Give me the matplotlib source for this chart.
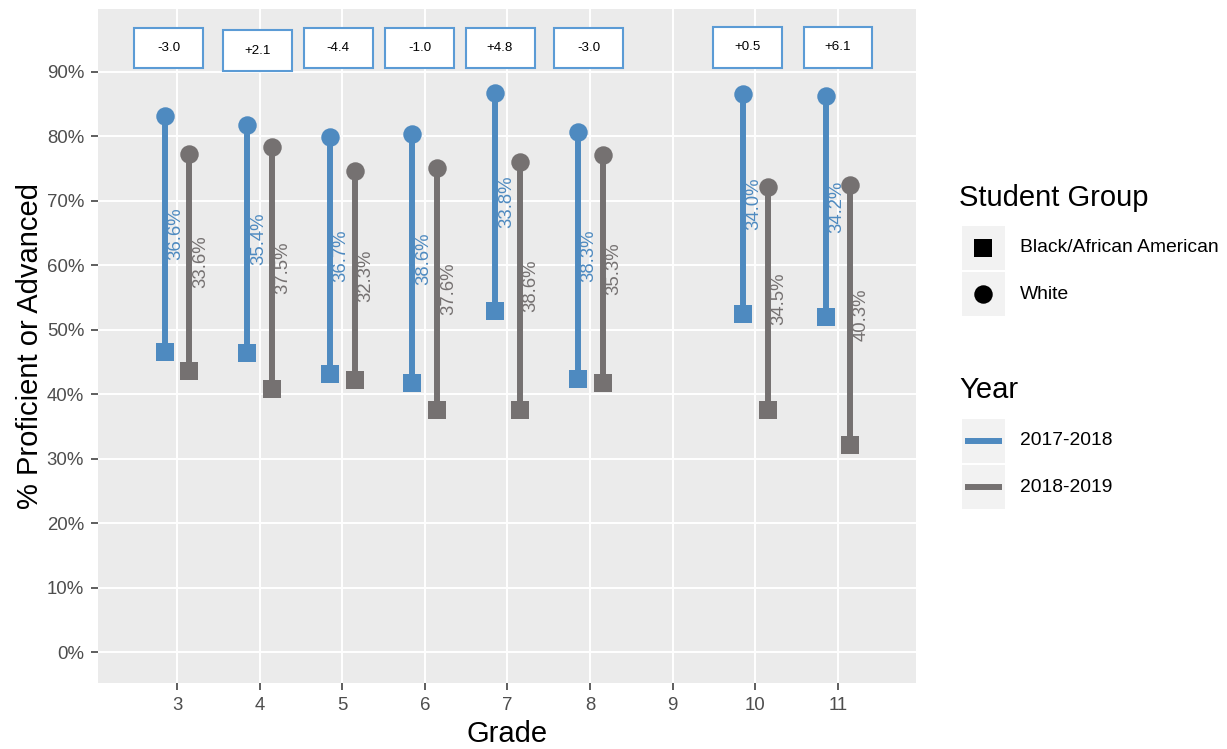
import matplotlib
matplotlib.use("Agg")
import matplotlib.pyplot as plt
from matplotlib.patches import Rectangle
from matplotlib.lines import Line2D

plt.rcParams["font.family"] = ["Liberation Sans", "DejaVu Sans"]

# ── data ──────────────────────────────────────────────────────────────────────
grades     = [3, 4, 5, 6, 7, 8, 10, 11]
years      = ["2017-2018", "2018-2019"]
groups     = ["Black/African American", "White"]
white_1718 = [83.2, 81.8, 79.9, 80.4, 86.8, 80.7, 86.5, 86.2]
black_1718 = [46.6, 46.4, 43.2, 41.8, 53.0, 42.4, 52.5, 52.0]
white_1819 = [77.3, 78.4, 74.6, 75.1, 76.1, 77.1, 72.1, 72.5]
black_1819 = [43.7, 40.9, 42.3, 37.5, 37.5, 41.8, 37.6, 32.2]
xticks     = [3, 4, 5, 6, 7, 8, 9, 10, 11]
yticks     = [0, 10, 20, 30, 40, 50, 60, 70, 80, 90]

# ── style ─────────────────────────────────────────────────────────────────────
C_BLUE  = "#4E8AC0"
C_GRAY  = "#757171"
C_BOX   = "#5B9BD5"
PANEL   = "#EBEBEB"
KEYBG   = "#F2F2F2"
W, H    = 1227, 749
OFFSET  = 0.15
FS_TITLE = 21
FS_TICK  = 13.4
FS_LEG   = 13.9
# ggrepel-ish placement of the change boxes
box_dx  = [-0.10, -0.03, -0.05, -0.06, -0.09, -0.02, -0.10, 0.0]
box_y   = [93.7, 93.3, 93.7, 93.7, 93.7, 93.7, 93.8, 93.8]

gap_1718 = [round(w - b, 1) for w, b in zip(white_1718, black_1718)]
gap_1819 = [round(w - b, 1) for w, b in zip(white_1819, black_1819)]
change   = [round(b - a, 1) for a, b in zip(gap_1718, gap_1819)]


def fx(px):
    return px / W


def fy(py):
    return 1 - py / H


fig = plt.figure(figsize=(W / 100, H / 100), dpi=100)
ax = fig.add_axes([fx(98), fy(683), 818 / W, 674 / H])
ax.set_facecolor(PANEL)
for sp in ax.spines.values():
    sp.set_visible(False)
ax.set_axisbelow(True)
ax.grid(True, color="white", lw=1.4)

runs = [
    (-OFFSET, white_1718, black_1718, gap_1718, C_BLUE),
    (+OFFSET, white_1819, black_1819, gap_1819, C_GRAY),
]
for dx, wh, bl, gaps, col in runs:
    xs = [g + dx for g in grades]
    ax.vlines(xs, bl, wh, colors=col, lw=4.3, zorder=2)
for dx, wh, bl, gaps, col in runs:
    xs = [g + dx for g in grades]
    ax.plot(xs, wh, "o", ms=13.3, color=col, mew=0, zorder=3)
    ax.plot(xs, bl, "s", ms=13.3, color=col, mew=0, zorder=3)
    for x, w, b, g in zip(xs, wh, bl, gaps):
        ax.text(x + 0.135, (w + b) / 2, f"{g:.1f}%", rotation=90,
                ha="center", va="center", color=col, fontsize=13.3, zorder=4)

# change in gap boxes
bw, bh = 0.835, 6.35
for g, d, y, c in zip(grades, box_dx, box_y, change):
    cx = g + d
    ax.add_patch(Rectangle((cx - bw / 2, y - bh / 2), bw, bh, facecolor="white",
                           edgecolor=C_BOX, lw=1.5, zorder=5))
    ax.text(cx, y, f"{c:+.1f}", ha="center", va="center", fontsize=9.6,
            color="black", zorder=6)

ax.set_xlim(2.044, 11.944)
ax.set_ylim(-4.75, 99.75)
ax.set_xticks(xticks)
ax.set_yticks(yticks)
ax.set_yticklabels([f"{v}%" for v in yticks])
ax.tick_params(axis="both", colors="#333333", labelcolor="#4D4D4D",
               labelsize=FS_TICK, length=5, width=1.1, pad=5)
ax.set_xlabel("Grade", fontsize=FS_TITLE, va="center")
ax.set_ylabel("% Proficient or Advanced", fontsize=FS_TITLE, va="center")
ax.xaxis.set_label_coords(0.5, (683 - 734) / 674)
ax.yaxis.set_label_coords((30 - 98) / 818, 0.5)

# ── legends (drawn by hand, ggplot style) ─────────────────────────────────────
fig.text(fx(959), fy(198), "Student Group", fontsize=FS_TITLE, va="center", ha="left")
fig.text(fx(959), fy(390), "Year", fontsize=FS_TITLE, va="center", ha="left")

shape_keys = [(226, "s"), (272, "o")]
for (top, mk), lab in zip(shape_keys, groups):
    fig.add_artist(Rectangle((fx(962), fy(top + 44)), 43 / W, 44 / H,
                             transform=fig.transFigure, facecolor=KEYBG,
                             edgecolor="none"))
    fig.add_artist(Line2D([fx(983.5)], [fy(top + 22)], marker=mk, ms=13.3,
                          color="black", mew=0, transform=fig.transFigure))
    fig.text(fx(1020), fy(top + 22), lab, fontsize=FS_LEG, va="center", ha="left")

year_keys = [(419, C_BLUE), (465, C_GRAY)]
for (top, col), lab in zip(year_keys, years):
    fig.add_artist(Rectangle((fx(962), fy(top + 44)), 43 / W, 44 / H,
                             transform=fig.transFigure, facecolor=KEYBG,
                             edgecolor="none"))
    fig.add_artist(Line2D([fx(965), fx(1002)], [fy(top + 22)] * 2, lw=4.3,
                          color=col, solid_capstyle="butt",
                          transform=fig.transFigure))
    fig.text(fx(1020), fy(top + 22), lab, fontsize=FS_LEG, va="center", ha="left")

fig.savefig("out.png", dpi=100)
